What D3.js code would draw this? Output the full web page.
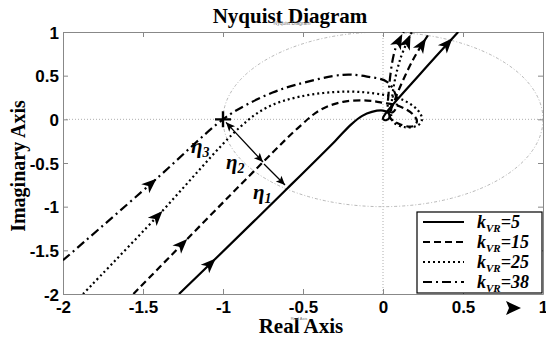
<!DOCTYPE html>
<html>
<head>
<meta charset="utf-8">
<script src="https://cdn.jsdelivr.net/npm/d3@7"></script>
<style>
body { margin: 0; background: #fff; }
</style>
</head>
<body>
<div id="chart"></div>
<script>
// axis ticks
var xTicks = [-2, -1.5, -1, -0.5, 0, 0.5, 1];
var yTicks = [-2, -1.5, -1, -0.5, 0, 0.5, 1];

// legend names (k_VR values)
var gains = ["5", "15", "25", "38"];

// Nyquist curves (real, imag)
var curveK5 = [[-1.275, -2], [-1.06, -1.62], [-0.6, -0.795], [-0.3, -0.25], [-0.2, -0.06],
    [-0.13, 0.04], [-0.07, 0.085], [0, 0.1], [0.035, 0.07], [0.04, 0.02], [0.02, -0.01],
    [0.0, 0.005], [0.01, 0.05], [0.235, 0.525], [0.47, 1.0]];
var curveK15 = [[-1.56, -2], [-0.75, -0.49], [-0.52, -0.08], [-0.39, 0.11], [-0.25, 0.2],
    [-0.1, 0.215], [0.0, 0.19], [0.106, 0.148], [0.187, 0.057], [0.212, -0.023],
    [0.187, -0.08], [0.106, -0.057], [0.044, 0.023], [0.075, 0.227], [0.187, 0.68], [0.294, 1.0]];
var curveK25 = [[-1.875, -2], [-1.41, -1.11], [-0.894, -0.09], [-0.725, 0.136], [-0.52, 0.26],
    [-0.225, 0.318], [-0.006, 0.284], [0.119, 0.227], [0.219, 0.102], [0.244, 0.0],
    [0.219, -0.068], [0.137, -0.09], [0.062, -0.023], [0.056, 0.227], [0.106, 0.68], [0.18, 1.0]];
var curveK38 = [[-2, -1.614], [-1.44, -0.72], [-1, 0.0], [-0.85, 0.17], [-0.69, 0.307],
    [-0.54, 0.398], [-0.25, 0.51], [-0.1, 0.49], [0.025, 0.43], [0.075, 0.3], [0.085, 0.15],
    [0.06, 0.08], [0.035, 0.1], [0.035, 0.3], [0.075, 0.795], [0.13, 1.0]];

// where the direction arrows sit on each curve
var arrowsK5 = [[-1.08, -1.65], [0.4, 0.87]];
var arrowsK15 = [[-1.25, -1.44], [0.245, 0.86]];
var arrowsK25 = [[-1.41, -1.11], [0.155, 0.9]];
var arrowsK38 = [[-1.44, -0.76], [0.105, 0.9]];

var width = 546, height = 337;
var x = d3.scaleLinear().domain([-2, 1]).range([63, 543]);
var y = d3.scaleLinear().domain([-2, 1]).range([294, 32]);

var serif = "'Liberation Serif', 'Times New Roman', serif";
var sans = "'Liberation Sans', Arial, sans-serif";

var svg = d3.select("#chart").append("svg")
    .attr("width", width)
    .attr("height", height)
    .style("font-family", sans);

// clip to plot box
svg.append("clipPath").attr("id", "plotclip")
    .append("rect")
    .attr("x", x(-2)).attr("y", y(1))
    .attr("width", x(1) - x(-2)).attr("height", y(-2) - y(1));

// zero lines
svg.append("line")
    .attr("x1", x(0)).attr("x2", x(0)).attr("y1", y(1)).attr("y2", y(-2))
    .attr("stroke", "#999").attr("stroke-width", 0.8).attr("stroke-dasharray", "1,2");
svg.append("line")
    .attr("x1", x(-2)).attr("x2", x(1)).attr("y1", y(0)).attr("y2", y(0))
    .attr("stroke", "#999").attr("stroke-width", 0.8).attr("stroke-dasharray", "1,2");

// unit circle
svg.append("ellipse")
    .attr("cx", x(0)).attr("cy", y(0))
    .attr("rx", x(1) - x(0)).attr("ry", y(0) - y(1))
    .attr("fill", "none")
    .attr("stroke", "#999").attr("stroke-width", 0.7)
    .attr("stroke-dasharray", "3,2,1,2")
    .attr("clip-path", "url(#plotclip)");

// axes
var axB = svg.append("g").attr("transform", "translate(0," + y(-2) + ")")
    .call(d3.axisBottom(x).tickValues(xTicks).tickSizeInner(-5).tickSizeOuter(0).tickPadding(7)
        .tickFormat(function (d) { return d; }));
var axT = svg.append("g").attr("transform", "translate(0," + y(1) + ")")
    .call(d3.axisTop(x).tickValues(xTicks).tickSizeInner(-5).tickSizeOuter(0).tickFormat(""));
var axL = svg.append("g").attr("transform", "translate(" + x(-2) + ",0)")
    .call(d3.axisLeft(y).tickValues(yTicks).tickSizeInner(-5).tickSizeOuter(0).tickPadding(4)
        .tickFormat(function (d) { return d; }));
var axR = svg.append("g").attr("transform", "translate(" + x(1) + ",0)")
    .call(d3.axisRight(y).tickValues(yTicks).tickSizeInner(-5).tickSizeOuter(0).tickFormat(""));

[axB, axT, axL, axR].forEach(function (g) {
    g.select(".domain").attr("stroke", "#888").attr("stroke-width", 1);
    g.selectAll(".tick line").attr("stroke", "#888");
    g.selectAll(".tick text")
        .attr("fill", "#000")
        .style("font-size", "17px")
        .style("font-weight", "bold")
        .style("font-family", sans);
});
axL.selectAll(".tick text").attr("dy", "0.36em");

// curves
var dashes = [null, "7,4", "2,3", "9,4,2,4"];
var curves = [curveK5, curveK15, curveK25, curveK38];
var arrowSets = [arrowsK5, arrowsK15, arrowsK25, arrowsK38];

var line = d3.line()
    .x(function (d) { return x(d[0]); })
    .y(function (d) { return y(d[1]); })
    .curve(d3.curveCatmullRom.alpha(0.5));

var plot = svg.append("g").attr("clip-path", "url(#plotclip)");

curves.forEach(function (c, i) {
    var p = plot.append("path")
        .datum(c)
        .attr("d", line)
        .attr("fill", "none")
        .attr("stroke", "#000")
        .attr("stroke-width", 2.2)
        .attr("stroke-dasharray", dashes[i]);
    var node = p.node();
    var total = node.getTotalLength();
    arrowSets[i].forEach(function (a) {
        var px = x(a[0]), py = y(a[1]);
        // nearest point along the path
        var best = 0, bestD = Infinity;
        for (var L = 0; L <= total; L += 1) {
            var pt = node.getPointAtLength(L);
            var dd = (pt.x - px) * (pt.x - px) + (pt.y - py) * (pt.y - py);
            if (dd < bestD) { bestD = dd; best = L; }
        }
        var p0 = node.getPointAtLength(Math.max(0, best - 3));
        var p1 = node.getPointAtLength(Math.min(total, best + 3));
        var ang = Math.atan2(p1.y - p0.y, p1.x - p0.x) * 180 / Math.PI;
        var c0 = node.getPointAtLength(best);
        plot.append("path")
            .attr("d", "M7,0 L-8,-6 L-4,0 L-8,6 Z")
            .attr("fill", "#000")
            .attr("transform", "translate(" + c0.x + "," + c0.y + ") rotate(" + ang + ")");
    });
});

// critical point marker
svg.append("path")
    .attr("d", "M" + (x(-1) - 8) + "," + y(0) + "H" + (x(-1) + 8) +
        "M" + x(-1) + "," + (y(0) - 8) + "V" + (y(0) + 8))
    .attr("stroke", "#000").attr("stroke-width", 2.4);

// eta distance arrows
function arrowHead(xp, yp, ang) {
    svg.append("path")
        .attr("d", "M0,0 L-9,-4 L-7,0 L-9,4 Z")
        .attr("fill", "#000")
        .attr("transform", "translate(" + xp + "," + yp + ") rotate(" + ang + ")");
}
var e2a = [x(-1) + 3, y(0) + 3], e2b = [263, 162];
svg.append("line").attr("x1", e2a[0]).attr("y1", e2a[1]).attr("x2", e2b[0]).attr("y2", e2b[1])
    .attr("stroke", "#000").attr("stroke-width", 1.3);
var angE2 = Math.atan2(e2b[1] - e2a[1], e2b[0] - e2a[0]) * 180 / Math.PI;
arrowHead(e2b[0], e2b[1], angE2);
arrowHead(e2a[0], e2a[1], angE2 + 180);
var e1a = [264, 164], e1b = [285, 185];
svg.append("line").attr("x1", e1a[0]).attr("y1", e1a[1]).attr("x2", e1b[0]).attr("y2", e1b[1])
    .attr("stroke", "#000").attr("stroke-width", 1.3);
arrowHead(e1b[0], e1b[1], Math.atan2(e1b[1] - e1a[1], e1b[0] - e1a[0]) * 180 / Math.PI);

function etaLabel(xp, yp, sub) {
    var t = svg.append("text").attr("x", xp).attr("y", yp)
        .style("font-family", serif)
        .style("font-style", "italic").style("font-weight", "bold").style("font-size", "21px");
    t.append("tspan").text("\u03b7");
    t.append("tspan").attr("dy", 4).style("font-size", "14px").text(sub);
}
etaLabel(191, 153, "3");
etaLabel(226, 169, "2");
etaLabel(253, 199, "1");

// legend
var lg = svg.append("g");
lg.append("rect")
    .attr("x", 417).attr("y", 212).attr("width", 125).attr("height", 81)
    .attr("fill", "#fff").attr("stroke", "#000").attr("stroke-width", 1.2);
gains.forEach(function (g, i) {
    var ly = 222 + i * 20;
    lg.append("line")
        .attr("x1", 423).attr("x2", 464).attr("y1", ly).attr("y2", ly)
        .attr("stroke", "#000").attr("stroke-width", 2.2)
        .attr("stroke-dasharray", dashes[i]);
    var t = lg.append("text").attr("x", 477).attr("y", ly + 6)
        .style("font-family", serif)
        .style("font-style", "italic").style("font-weight", "bold").style("font-size", "18px");
    t.append("tspan").text("k");
    t.append("tspan").attr("dy", 4).style("font-size", "11px").text("VR");
    t.append("tspan").attr("dy", -4).text("=" + g);
});

// stray arrow by the x tick labels
svg.append("path")
    .attr("d", "M506,301 L521,308 L506,315 L509,308 Z")
    .attr("fill", "#000");

// titles
svg.append("text").attr("x", 290).attr("y", 23).attr("text-anchor", "middle")
    .style("font-family", serif)
    .style("font-weight", "bold").style("font-size", "21px")
    .text("Nyquist Diagram");
svg.append("text").attr("x", 292).attr("y", 25).attr("text-anchor", "middle")
    .style("font-size", "5px").attr("fill", "#777")
    .text("Nyquist Diagram");
svg.append("text").attr("x", 301).attr("y", 333).attr("text-anchor", "middle")
    .style("font-family", serif)
    .style("font-weight", "bold").style("font-size", "21px")
    .text("Real Axis");
svg.append("text").attr("x", 299).attr("y", 320).attr("text-anchor", "middle")
    .style("font-size", "4px").attr("fill", "#777")
    .text("Real Axis");
svg.append("text")
    .attr("transform", "translate(25,166) rotate(-90)")
    .attr("text-anchor", "middle")
    .style("font-family", serif)
    .style("font-weight", "bold").style("font-size", "20px")
    .text("Imaginary Axis");
</script>
</body>
</html>
